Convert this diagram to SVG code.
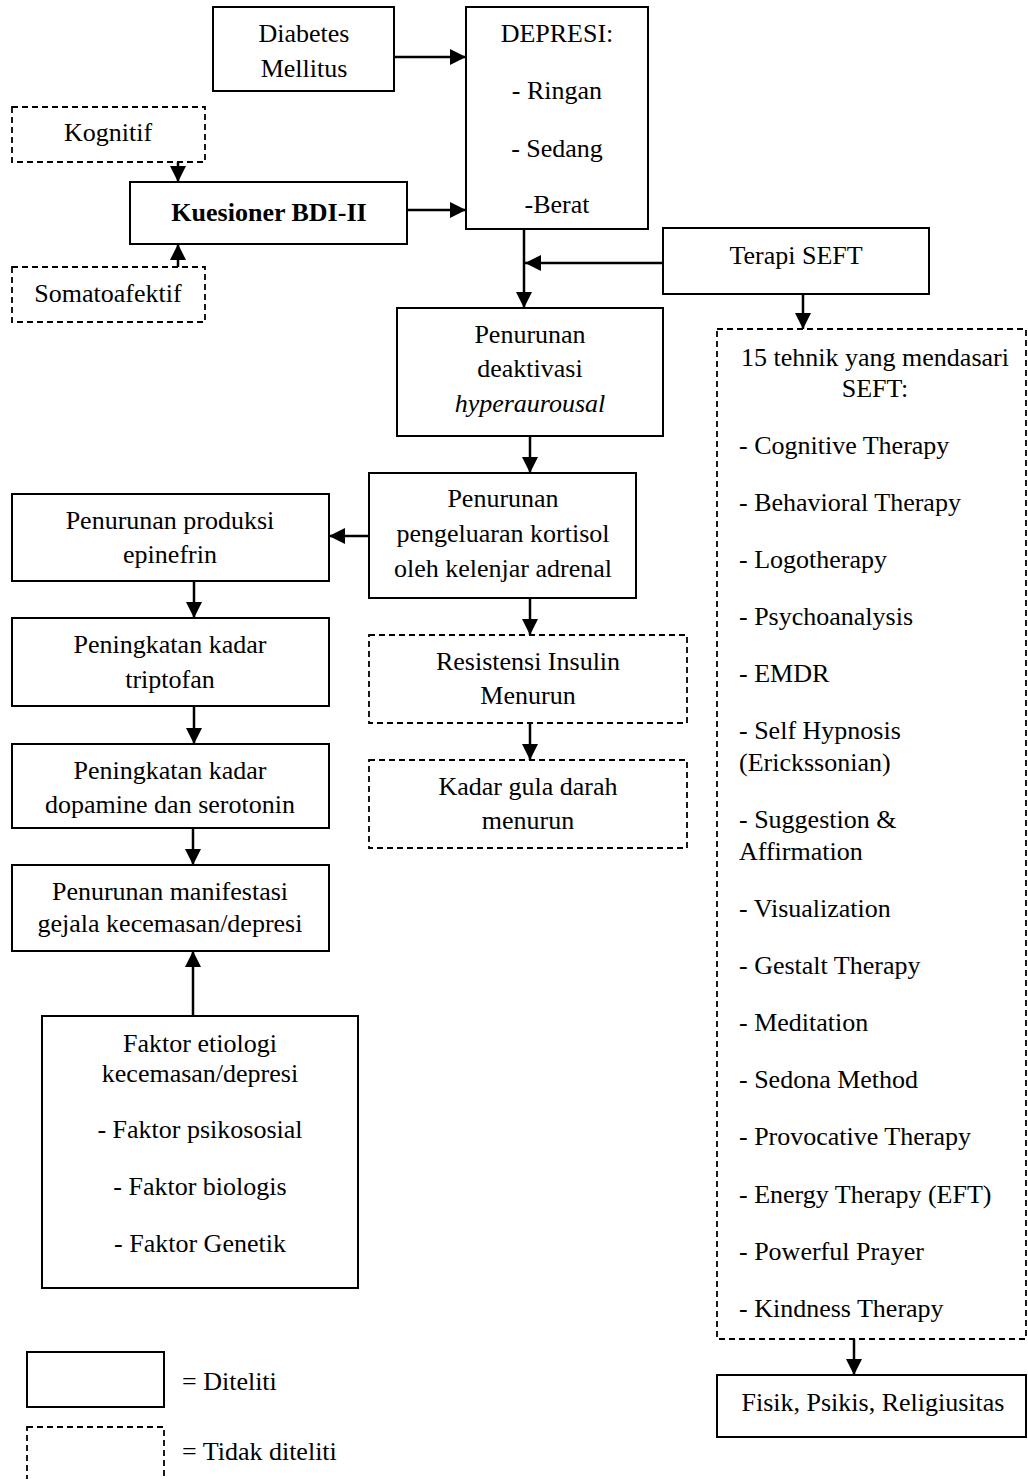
<svg xmlns="http://www.w3.org/2000/svg" width="1028" height="1479" viewBox="0 0 1028 1479">
<style>
text{font-family:"Liberation Serif","Times New Roman",serif;font-size:26px;fill:#000}
.c{text-anchor:middle}
.b{font-weight:bold}
.i{font-style:italic}
.box{fill:#fff;stroke:#000;stroke-width:2}
.dbox{fill:#fff;stroke:#000;stroke-width:1.8;stroke-dasharray:6 4}
.con{fill:none;stroke:#000;stroke-width:2.5;marker-end:url(#ah)}
</style>
<defs>
<marker id="ah" markerUnits="userSpaceOnUse" markerWidth="16" markerHeight="16" viewBox="0 0 16 16" refX="16" refY="8" orient="auto">
<path d="M0,0 L16,8 L0,16 z" fill="#000"/>
</marker>
</defs>
<rect width="1028" height="1479" fill="#fff"/>

<g id="diabetes"><rect class="box" x="213" y="7" width="181" height="84"/>
<text class="c" x="304" y="42">Diabetes</text><text class="c" x="304" y="77">Mellitus</text></g>

<g id="depresi"><rect class="box" x="466" y="7" width="182" height="222"/>
<text class="c" x="557" y="42">DEPRESI:</text><text class="c" x="557" y="99">- Ringan</text>
<text class="c" x="557" y="157">- Sedang</text><text class="c" x="557" y="213">-Berat</text></g>

<g id="kognitif"><rect class="dbox" x="12" y="107" width="193" height="55"/>
<text class="c" x="108" y="141">Kognitif</text></g>

<g id="kuesioner"><rect class="box" x="130" y="182" width="277" height="62"/>
<text class="c b" x="269" y="221">Kuesioner BDI-II</text></g>

<g id="somatoafektif"><rect class="dbox" x="12" y="267" width="193" height="55"/>
<text class="c" x="108" y="302">Somatoafektif</text></g>

<g id="terapi-seft"><rect class="box" x="663" y="228" width="266" height="66"/>
<text class="c" x="796" y="264">Terapi SEFT</text></g>

<g id="deaktivasi"><rect class="box" x="397" y="308" width="266" height="128"/>
<text class="c" x="530" y="343">Penurunan</text><text class="c" x="530" y="377">deaktivasi</text>
<text class="c i" x="530" y="412">hyperaurousal</text></g>

<g id="kortisol"><rect class="box" x="369" y="473" width="267" height="125"/>
<text class="c" x="503" y="507">Penurunan</text><text class="c" x="503" y="542">pengeluaran kortisol</text>
<text class="c" x="503" y="577">oleh kelenjar adrenal</text></g>

<g id="epinefrin"><rect class="box" x="12" y="494" width="317" height="87"/>
<text class="c" x="170" y="529">Penurunan produksi</text><text class="c" x="170" y="563">epinefrin</text></g>

<g id="triptofan"><rect class="box" x="12" y="618" width="317" height="88"/>
<text class="c" x="170" y="653">Peningkatan kadar</text><text class="c" x="170" y="688">triptofan</text></g>

<g id="dopamine"><rect class="box" x="12" y="744" width="317" height="84"/>
<text class="c" x="170" y="779">Peningkatan kadar</text><text class="c" x="170" y="813">dopamine dan serotonin</text></g>

<g id="manifestasi"><rect class="box" x="12" y="865" width="317" height="86"/>
<text class="c" x="170" y="900">Penurunan manifestasi</text><text class="c" x="170" y="932">gejala kecemasan/depresi</text></g>

<g id="faktor"><rect class="box" x="42" y="1016" width="316" height="272"/>
<text class="c" x="200" y="1052">Faktor etiologi</text><text class="c" x="200" y="1082">kecemasan/depresi</text>
<text class="c" x="200" y="1138">- Faktor psikososial</text><text class="c" x="200" y="1195">- Faktor biologis</text>
<text class="c" x="200" y="1252">- Faktor Genetik</text></g>

<g id="resistensi"><rect class="dbox" x="369" y="635" width="318" height="88"/>
<text class="c" x="528" y="670">Resistensi Insulin</text><text class="c" x="528" y="704">Menurun</text></g>

<g id="gula-darah"><rect class="dbox" x="369" y="760" width="318" height="88"/>
<text class="c" x="528" y="795">Kadar gula darah</text><text class="c" x="528" y="829">menurun</text></g>

<g id="teknik-seft"><rect class="dbox" x="717" y="329" width="309" height="1010"/>
<text class="c" x="875" y="366">15 tehnik yang mendasari</text><text class="c" x="875" y="397">SEFT:</text>
<text x="739" y="454">- Cognitive Therapy</text>
<text x="739" y="511">- Behavioral Therapy</text>
<text x="739" y="568">- Logotherapy</text>
<text x="739" y="625">- Psychoanalysis</text>
<text x="739" y="682">- EMDR</text>
<text x="739" y="739">- Self Hypnosis</text>
<text x="739" y="771">(Erickssonian)</text>
<text x="739" y="828">- Suggestion &amp;</text>
<text x="739" y="860">Affirmation</text>
<text x="739" y="917">- Visualization</text>
<text x="739" y="974">- Gestalt Therapy</text>
<text x="739" y="1031">- Meditation</text>
<text x="739" y="1088">- Sedona Method</text>
<text x="739" y="1145">- Provocative Therapy</text>
<text x="739" y="1203">- Energy Therapy (EFT)</text>
<text x="739" y="1260">- Powerful Prayer</text>
<text x="739" y="1317">- Kindness Therapy</text></g>

<g id="fisik"><rect class="box" x="717" y="1375" width="309" height="62"/>
<text class="c" x="873" y="1411">Fisik, Psikis, Religiusitas</text></g>

<g id="legend">
<rect class="box" x="27" y="1352" width="137" height="55"/>
<text x="182" y="1390">= Diteliti</text>
<rect class="dbox" x="27" y="1427" width="137" height="70"/>
<text x="182" y="1460">= Tidak diteliti</text>
</g>

<g id="connectors">
<path class="con" d="M394,57 H466"/>
<path class="con" d="M407,210 H466"/>
<path class="con" d="M178,162 V182"/>
<path class="con" d="M178,267 V244"/>
<path class="con" d="M524,229 V308"/>
<path class="con" d="M663,263 H525"/>
<path class="con" d="M803,294 V329"/>
<path class="con" d="M530,436 V473"/>
<path class="con" d="M369,536 H329"/>
<path class="con" d="M530,598 V635"/>
<path class="con" d="M530,723 V760"/>
<path class="con" d="M194,581 V618"/>
<path class="con" d="M194,706 V744"/>
<path class="con" d="M193,828 V865"/>
<path class="con" d="M193,1016 V951"/>
<path class="con" d="M854,1339 V1375"/>
</g>
</svg>
